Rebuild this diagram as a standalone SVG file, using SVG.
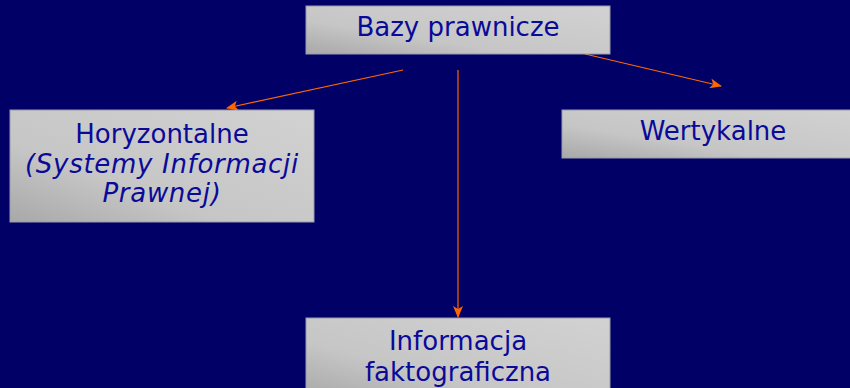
<svg xmlns="http://www.w3.org/2000/svg" width="850" height="388" viewBox="0 0 850 388">
<defs>
<linearGradient id="g" x1="0" y1="1" x2="1" y2="0">
<stop offset="0" stop-color="#a8a8a8"/>
<stop offset="0.35" stop-color="#c6c6c6"/>
<stop offset="1" stop-color="#d2d2d2"/>
</linearGradient>
<marker id="ah" viewBox="0 0 12 10" refX="11" refY="5" markerWidth="12" markerHeight="10" markerUnits="userSpaceOnUse" orient="auto">
<path d="M0,0 L12,5 L0,10 L3,5 Z" fill="#ff6600"/>
</marker>
<style>
.box{fill:url(#g);stroke:#9a9aae;stroke-width:1}
.t{font-family:"DejaVu Sans",Verdana,sans-serif;font-size:26px;fill:#0a0a99;text-anchor:middle}
.i{font-style:italic;letter-spacing:0.7px}
.c{stroke:#ff6600;stroke-width:1.2;fill:none;marker-end:url(#ah)}
</style>
</defs>
<rect width="850" height="388" fill="#000066"/>
<g id="connectors">
<line class="c" x1="403" y1="70" x2="227" y2="108"/>
<line class="c" x1="585" y1="54" x2="721" y2="86"/>
<line class="c" x1="458" y1="70" x2="458" y2="317"/>
</g>
<g id="bazy">
<rect class="box" x="306" y="6" width="304" height="48"/>
<text class="t" x="458" y="36">Bazy prawnicze</text>
</g>
<g id="horyzontalne">
<rect class="box" x="10" y="110" width="304" height="112"/>
<text class="t" x="162" y="143">Horyzontalne</text>
<text class="t i" x="162" y="173">(Systemy Informacji</text>
<text class="t i" x="162" y="202">Prawnej)</text>
</g>
<g id="wertykalne">
<rect class="box" x="562" y="110" width="304" height="48"/>
<text class="t" x="713" y="140">Wertykalne</text>
</g>
<g id="informacja">
<rect class="box" x="306" y="318" width="304" height="80"/>
<text class="t" x="458" y="350">Informacja</text>
<text class="t" x="458" y="381">faktograficzna</text>
</g>
</svg>
